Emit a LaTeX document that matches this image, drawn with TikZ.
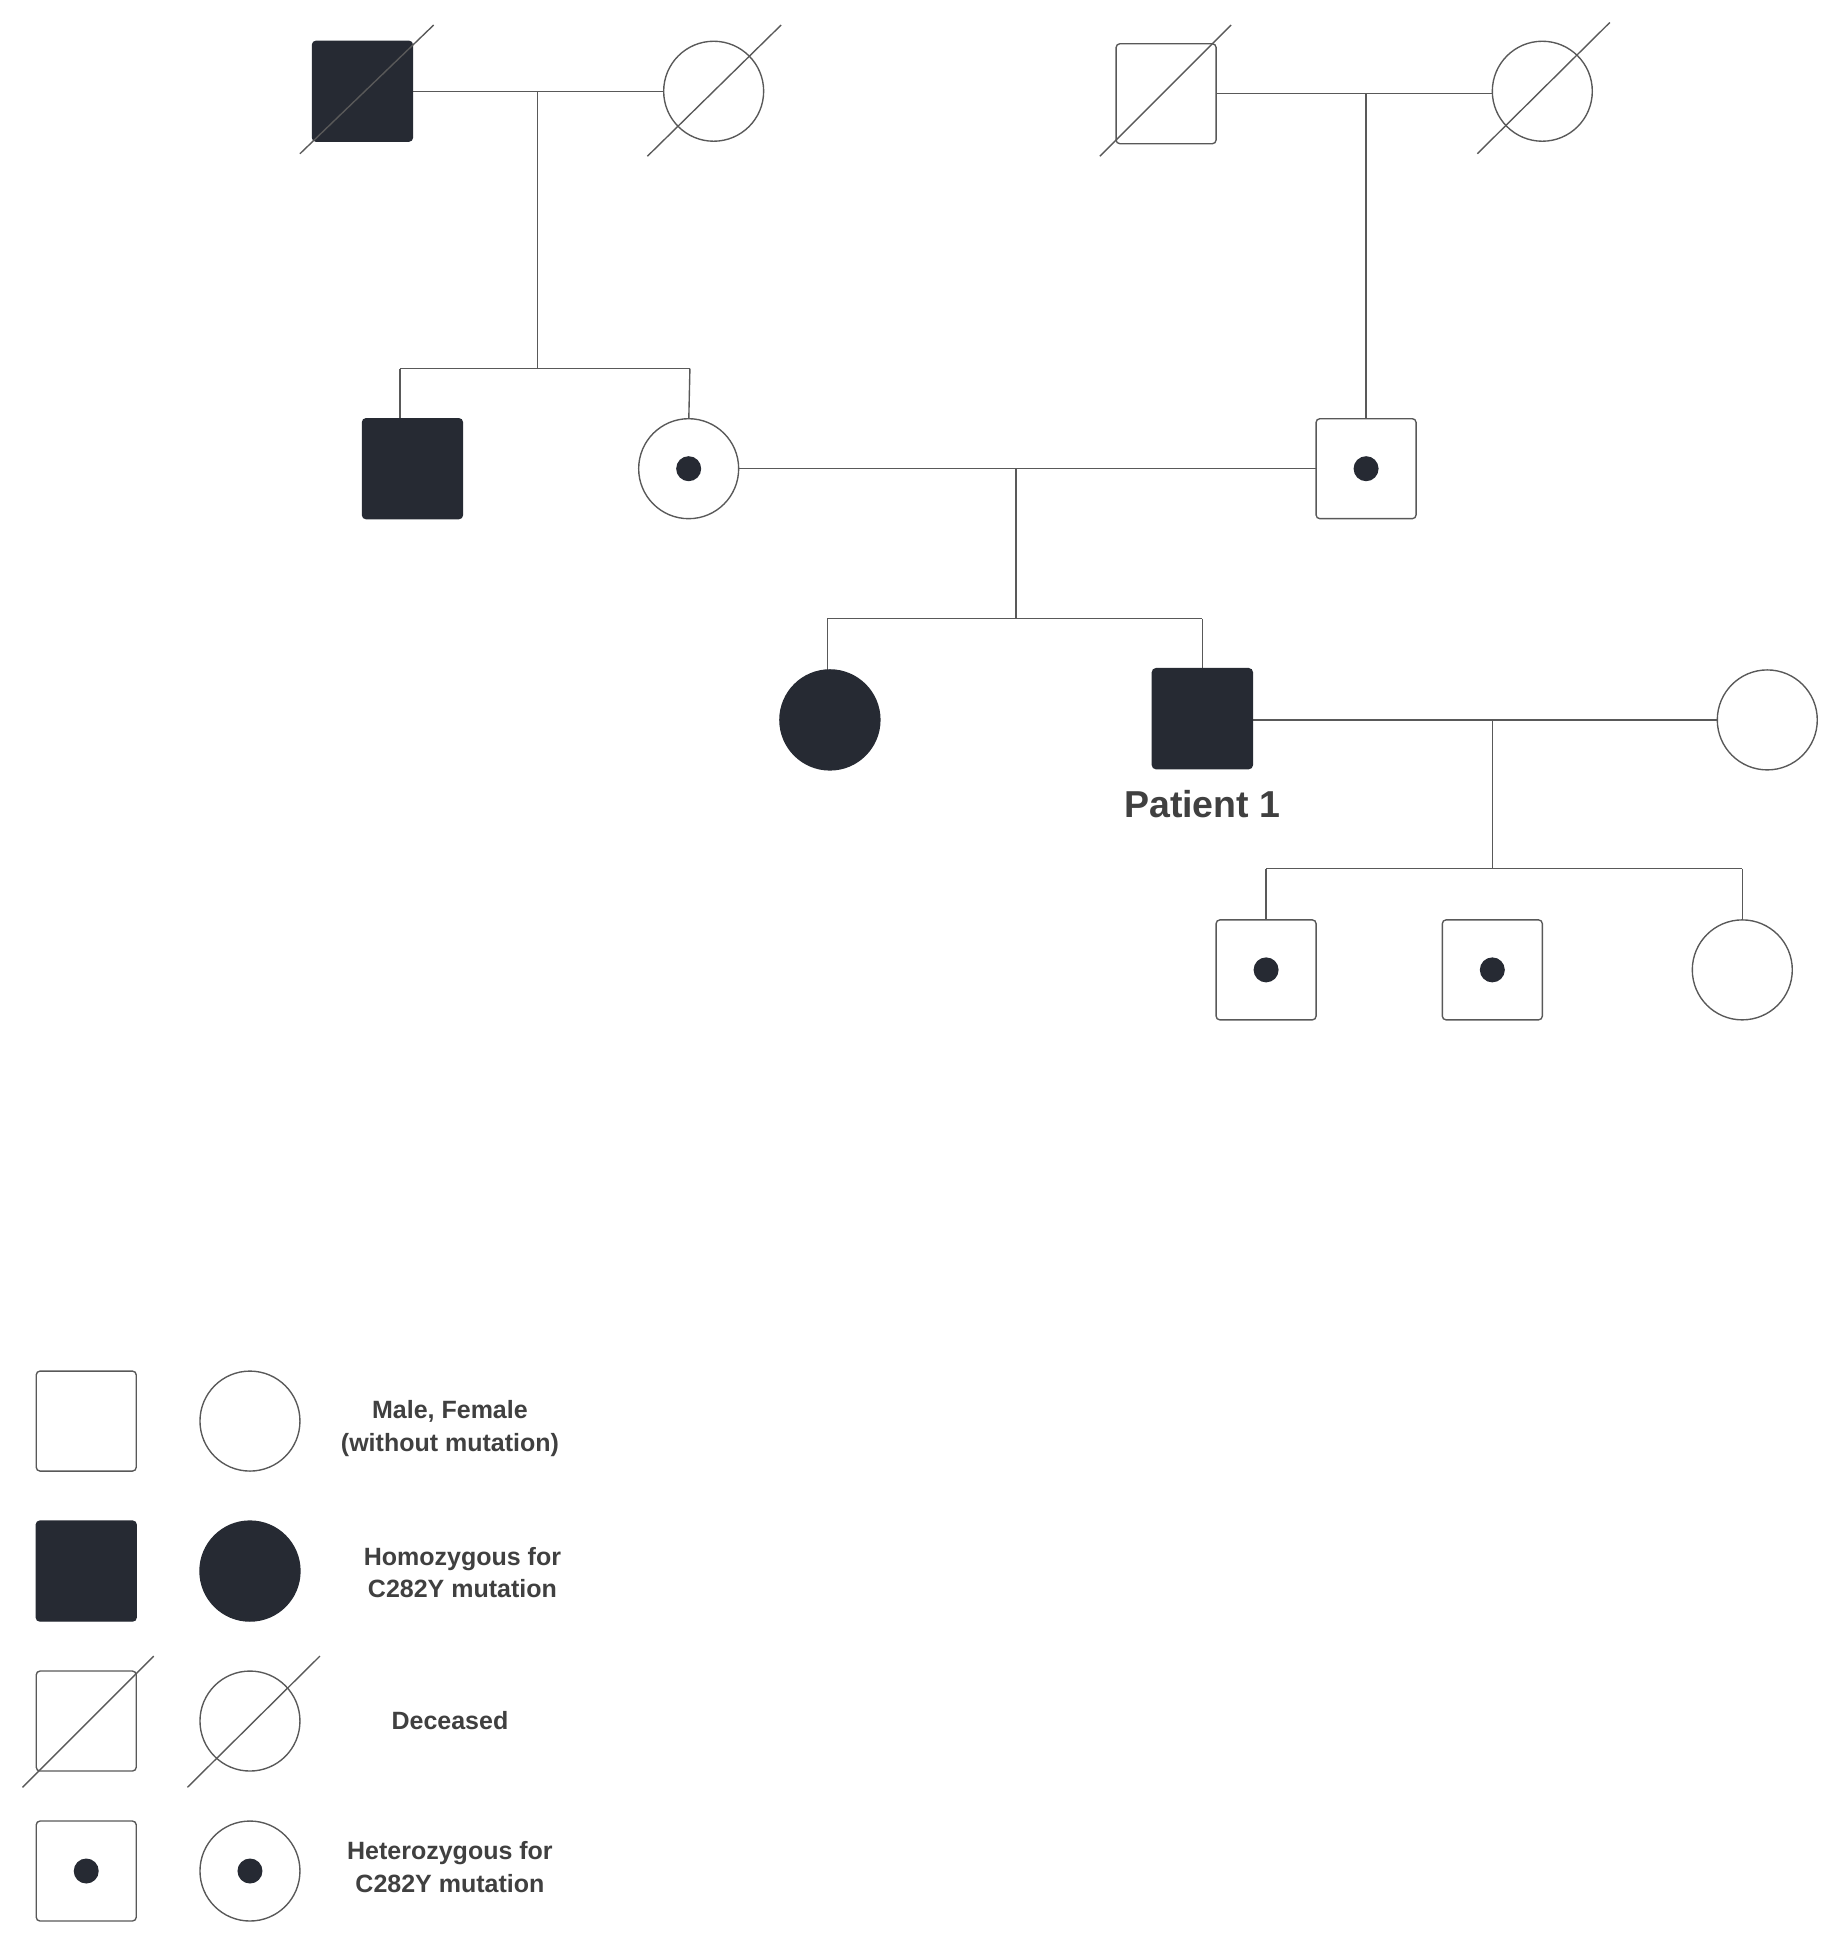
\documentclass[tikz,border=0pt]{standalone}
\usepackage{fontspec}
\setmainfont{Liberation Sans}
\begin{document}
\begin{tikzpicture}[x=1pt,y=-1pt,
  ln/.style={draw=gray!70!black,line width=1.1pt},
  sq/.style={rectangle,rounded corners=3pt,minimum size=80pt,inner sep=0pt,draw=gray!70!black,line width=1.1pt,fill=white},
  ci/.style={circle,minimum size=80pt,inner sep=0pt,draw=gray!70!black,line width=1.1pt,fill=white},
  aff/.style={fill=dk,draw=dk},
  dot/.style={circle,fill=dk,minimum size=20pt,inner sep=0pt},
  lab/.style={font=\bfseries\fontsize{20}{26}\selectfont,text=black!75,align=center}]
\definecolor{dk}{HTML}{262A33}
\useasboundingbox (0,0) rectangle (1470,1557);
% lines
\coordinate (c1) at (430,73); \coordinate (c1b) at (430,295);
\coordinate (s1a) at (320,295); \coordinate (s1b) at (552,295);
\coordinate (c2) at (1093,75);
\coordinate (c3) at (813,375); \coordinate (c3b) at (813,495);
\coordinate (s3a) at (662,495); \coordinate (s3b) at (962,495);
\coordinate (c4) at (1194,576); \coordinate (c4b) at (1194,695);
\coordinate (s4a) at (1013,695); \coordinate (s4b) at (1394,695);
\draw[ln] (290,73) -- (571,73);
\draw[ln] (c1) -- (c1b);
\draw[ln] (s1a) -- (s1b); \draw[ln] (s1a) -- (320,340); \draw[ln] (s1b) -- (551,340);
\draw[ln] (933,75) -- (1234,75);
\draw[ln] (c2) -- (1093,340);
\draw[ln] (551,375) -- (1093,375);
\draw[ln] (c3) -- (c3b);
\draw[ln] (s3a) -- (s3b); \draw[ln] (s3a) -- (662,540); \draw[ln] (s3b) -- (962,540);
\draw[ln] (962,576) -- (1414,576);
\draw[ln] (c4) -- (c4b);
\draw[ln] (s4a) -- (s4b); \draw[ln] (s4a) -- (1013,740); \draw[ln] (s4b) -- (1394,740);
% gen1
\node[sq,aff] (gf1) at (290,73) {};
\node[ci] (gm1) at (571,73) {};
\node[sq] (gf2) at (933,75) {};
\node[ci] (gm2) at (1234,73) {};
\draw[ln] (240,123) -- (347,20);
\draw[ln] (518,125) -- (625,20);
\draw[ln] (880,125) -- (985,20);
\draw[ln] (1182,123) -- (1288,18);
% gen2
\node[sq,aff] (u) at (330,375) {};
\node[ci] (mo) at (551,375) {}; \node[dot] at (mo) {};
\node[sq] (fa) at (1093,375) {}; \node[dot] at (fa) {};
% gen3
\node[ci,aff] (sis) at (664,576) {};
\node[sq,aff] (p1) at (962,575) {};
\node[font=\bfseries\fontsize{30}{36}\selectfont,text=black!75] (pl) at (962,643) {Patient 1};
\node[ci] (wi) at (1414,576) {};
% gen4
\node[sq] (k1) at (1013,776) {}; \node[dot] at (k1) {};
\node[sq] (k2) at (1194,776) {}; \node[dot] at (k2) {};
\node[ci] (k3) at (1394,776) {};
% legend
\node[sq] (l1s) at (69,1137) {}; \node[ci] (l1c) at (200,1137) {};
\node[lab] (l1t) at (360,1143) {Male, Female\\(without mutation)};
\node[sq,aff] (l2s) at (69,1257) {}; \node[ci,aff] (l2c) at (200,1257) {};
\node[lab] (l2t) at (370,1258) {Homozygous for\\C282Y mutation};
\node[sq] (l3s) at (69,1377) {}; \node[ci] (l3c) at (200,1377) {};
\draw[ln] (18,1430) -- (123,1325);
\draw[ln] (150,1430) -- (256,1325);
\node[lab] (l3t) at (360,1377) {Deceased};
\node[sq] (l4s) at (69,1497) {}; \node[dot] at (l4s) {};
\node[ci] (l4c) at (200,1497) {}; \node[dot] at (l4c) {};
\node[lab] (l4t) at (360,1494) {Heterozygous for\\C282Y mutation};
\end{tikzpicture}
\end{document}
